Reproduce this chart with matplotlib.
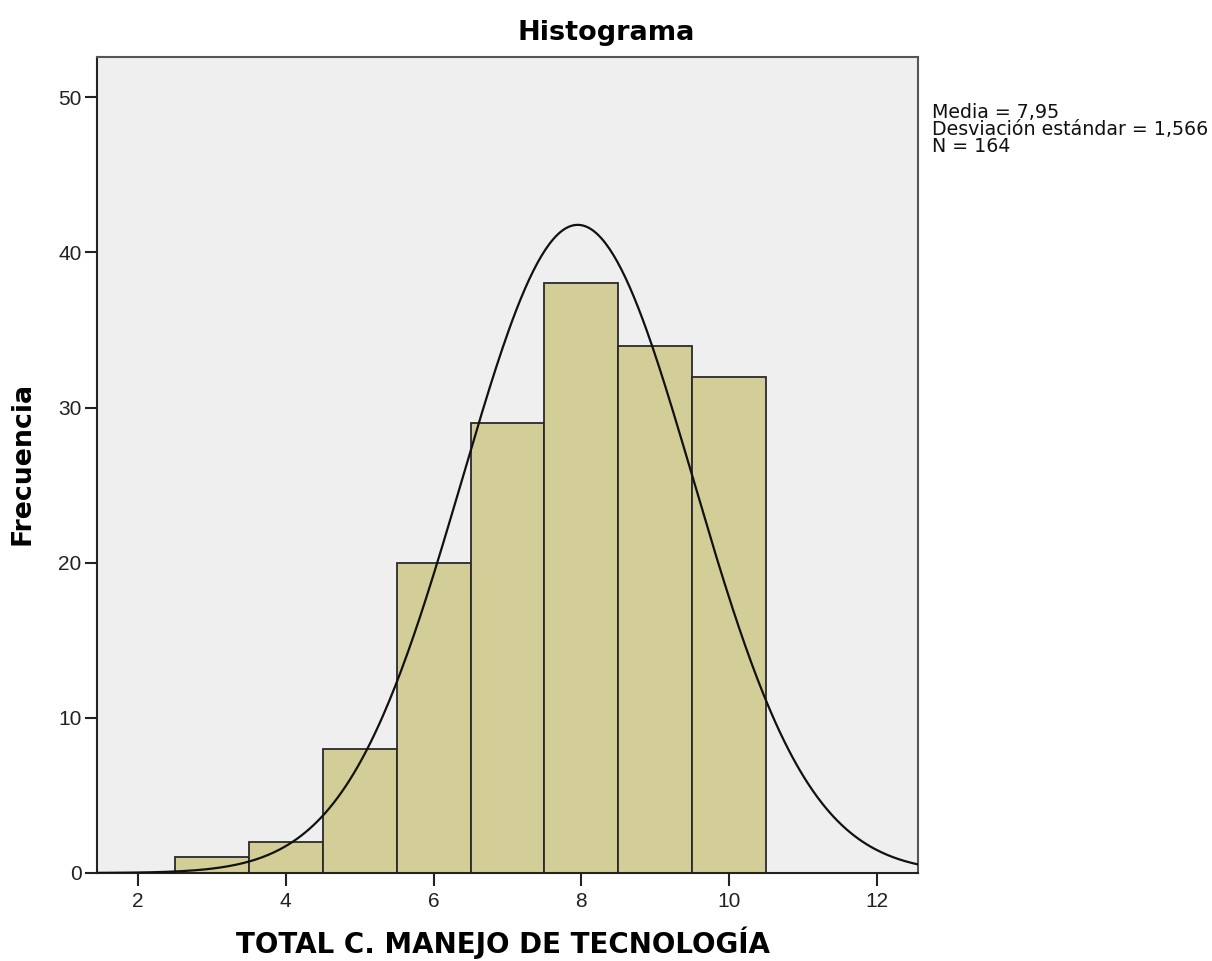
import numpy as np
import matplotlib
matplotlib.use("Agg")
from matplotlib import pyplot as plt

# frequency of each score value
scores = [3, 4, 5, 6, 7, 8, 9, 10]
counts = [1, 2, 8, 20, 29, 38, 34, 32]
media = 7.95
desv = 1.566
n = 164
stats_lines = ['Media = 7,95', 'Desviación estándar = 1,566', 'N = 164']

plt.rcParams['font.family'] = ['Liberation Sans', 'DejaVu Sans']

W, H = 1212, 961
fig = plt.figure(figsize=(W / 100, H / 100), dpi=100)
ax = fig.add_axes([97 / W, 1 - 873 / H, (918 - 97) / W, (873 - 57) / H])
ax.set_facecolor('#efefef')

ax.bar(scores, counts, width=1.0, color='#d3ce97', edgecolor='#2a2a2a',
       linewidth=1.3, zorder=2)

# normal curve scaled to the histogram (bin width 1)
x = np.linspace(1.445, 12.555, 400)
y = n * np.exp(-0.5 * ((x - media) / desv) ** 2) / (desv * np.sqrt(2 * np.pi))
ax.plot(x, y, color='#111111', linewidth=1.6, zorder=3)

ax.set_xlim(1.445, 12.555)
ax.set_ylim(0, 52.6)
ax.set_xticks([2, 4, 6, 8, 10, 12])
ax.set_yticks([0, 10, 20, 30, 40, 50])
ax.tick_params(axis='both', labelsize=15, length=9, width=1.5, color='#222222',
               labelcolor='#222222')
ax.tick_params(axis='x', pad=5)
ax.tick_params(axis='y', pad=2)

for side in ['left', 'bottom']:
    ax.spines[side].set_linewidth(1.5)
    ax.spines[side].set_color('#222222')
for side in ['top', 'right']:
    ax.spines[side].set_linewidth(1.5)
    ax.spines[side].set_color('#555555')

fig.text(0.5, 1 - 40 / H, 'Histograma', fontsize=19.5, fontweight='bold',
         ha='center', va='baseline', family='DejaVu Sans')
fig.text(503 / W, 1 - 953 / H, 'TOTAL C. MANEJO DE TECNOLOGÍA',
         fontsize=20, fontweight='bold', ha='center', va='baseline',
         family='DejaVu Sans')
fig.text(23 / W, 1 - 463 / H, 'Frecuencia', fontsize=19.3, fontweight='bold',
         rotation=90, ha='center', va='center', family='DejaVu Sans')

for i, line in enumerate(stats_lines):
    fig.text(932 / W, 1 - (118 + 17 * i) / H, line, fontsize=13.7,
             ha='left', va='baseline', color='#111111', family='DejaVu Sans')

fig.savefig('out.png', dpi=100)
